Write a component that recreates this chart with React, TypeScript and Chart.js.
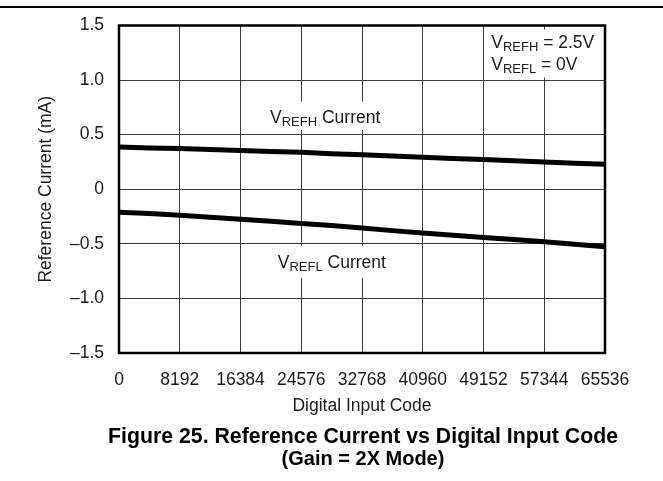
import React, { useEffect, useRef } from 'react';
import { Chart, registerables } from 'chart.js';

Chart.register(...registerables);

// ---- data ----
const inputCodes = [0, 4096, 8192, 12288, 16384, 20480, 24576, 28672, 32768, 36864, 40960, 45056, 49152, 53248, 57344, 61440, 65536];
const vrefhCurrent = [0.386, 0.379, 0.373, 0.364, 0.356, 0.346, 0.338, 0.326, 0.317, 0.305, 0.294, 0.282, 0.272, 0.261, 0.249, 0.239, 0.229];
const vreflCurrent = [-0.21, -0.223, -0.238, -0.256, -0.274, -0.293, -0.314, -0.333, -0.355, -0.379, -0.401, -0.421, -0.441, -0.461, -0.481, -0.503, -0.527];

const xTickValues = [0, 8192, 16384, 24576, 32768, 40960, 49152, 57344, 65536];
const xTickLabels = ['0', '8192', '16384', '24576', '32768', '40960', '49152', '57344', '65536'];
const yTickValues = [-1.5, -1.0, -0.5, 0, 0.5, 1.0, 1.5];
const yTickLabels = ['\u20131.5', '\u20131.0', '\u20130.5', '0', '0.5', '1.0', '1.5'];

const xTitle = 'Digital Input Code';
const yTitle = 'Reference Current (mA)';
const captionLine1 = 'Figure 25. Reference Current vs Digital Input Code';
const captionLine2 = '(Gain = 2X Mode)';

const FONT = "'Liberation Sans', Arial, Helvetica, sans-serif";

type Seg = { t: string; sub?: boolean };

function segWidth(ctx: CanvasRenderingContext2D, segs: Seg[], main: number, sub: number) {
  let w = 0;
  for (const s of segs) {
    ctx.font = `${s.sub ? sub : main}px ${FONT}`;
    w += ctx.measureText(s.t).width;
  }
  return w;
}

function drawSegs(ctx: CanvasRenderingContext2D, segs: Seg[], x: number, y: number, main: number, sub: number) {
  let cx = x;
  ctx.textBaseline = 'alphabetic';
  ctx.textAlign = 'left';
  for (const s of segs) {
    ctx.font = `${s.sub ? sub : main}px ${FONT}`;
    ctx.fillText(s.t, cx, s.sub ? y + 3.5 : y);
    cx += ctx.measureText(s.t).width;
  }
}

const labelH: Seg[] = [{ t: 'V' }, { t: 'REFH', sub: true }, { t: ' Current' }];
const labelL: Seg[] = [{ t: 'V' }, { t: 'REFL', sub: true }, { t: ' Current' }];
const condH: Seg[] = [{ t: 'V' }, { t: 'REFH', sub: true }, { t: ' = 2.5V' }];
const condL: Seg[] = [{ t: 'V' }, { t: 'REFL', sub: true }, { t: ' = 0V' }];

const decorPlugin = {
  id: 'decor',
  beforeDatasetsDraw(chart: any) {
    const ctx: CanvasRenderingContext2D = chart.ctx;
    const { x, y } = chart.scales;
    const main = 17.5;
    const sub = 13;
    ctx.save();
    // VREFH Current label
    {
      const cx = x.getPixelForValue(27800);
      const by = y.getPixelForValue(0.61);
      const w = segWidth(ctx, labelH, main, sub);
      ctx.fillStyle = '#fff';
      ctx.fillRect(cx - w / 2 - 5, by - 21, w + 10, 28);
      ctx.fillStyle = '#1a1a1a';
      drawSegs(ctx, labelH, cx - w / 2, by, main, sub);
    }
    // VREFL Current label
    {
      const cx = x.getPixelForValue(28700);
      const by = y.getPixelForValue(-0.72);
      const w = segWidth(ctx, labelL, main, sub);
      ctx.fillStyle = '#fff';
      ctx.fillRect(cx - w / 2 - 5, by - 22, w + 10, 32);
      ctx.fillStyle = '#1a1a1a';
      drawSegs(ctx, labelL, cx - w / 2, by, main, sub);
    }
    // conditions box (top right)
    {
      const ca = chart.chartArea;
      const lx = x.getPixelForValue(50200);
      ctx.fillStyle = '#fff';
      ctx.fillRect(lx - 6, ca.top + 4, ca.right - lx + 6, 48);
      ctx.fillStyle = '#1a1a1a';
      drawSegs(ctx, condH, lx, ca.top + 22, main, sub);
      drawSegs(ctx, condL, lx, ca.top + 44, main, sub);
    }
    ctx.restore();
  },
  afterDraw(chart: any) {
    const ctx: CanvasRenderingContext2D = chart.ctx;
    const ca = chart.chartArea;
    ctx.save();
    ctx.strokeStyle = '#000';
    ctx.lineWidth = 2.5;
    ctx.strokeRect(ca.left, ca.top, ca.right - ca.left, ca.bottom - ca.top);
    ctx.fillStyle = '#000';
    ctx.fillRect(0, 6, chart.width, 2);
    // figure caption, centred under the plot area
    const mid = (ca.left + ca.right) / 2;
    const xb = chart.scales.x.bottom;
    ctx.textAlign = 'center';
    ctx.textBaseline = 'middle';
    ctx.font = `bold 21.3px ${FONT}`;
    ctx.fillText(captionLine1, mid + 1, xb + 11);
    ctx.font = `bold 20px ${FONT}`;
    ctx.fillText(captionLine2, mid + 1, xb + 33);
    ctx.restore();
  },
};

export default function App() {
  const ref = useRef<HTMLCanvasElement | null>(null);

  useEffect(() => {
    if (!ref.current) return;
    Chart.defaults.font.family = FONT;
    const chart = new Chart(ref.current, {
      type: 'line',
      data: {
        datasets: [
          {
            label: 'VREFH Current',
            data: inputCodes.map((c, i) => ({ x: c, y: vrefhCurrent[i] })),
            borderColor: '#000',
            borderWidth: 5,
            pointRadius: 0,
            tension: 0,
          },
          {
            label: 'VREFL Current',
            data: inputCodes.map((c, i) => ({ x: c, y: vreflCurrent[i] })),
            borderColor: '#000',
            borderWidth: 5,
            pointRadius: 0,
            tension: 0,
          },
        ],
      },
      options: {
        responsive: false,
        animation: false,
        layout: { padding: { top: 23, right: 58, left: 0, bottom: 55 } },
        plugins: {
          legend: { display: false },
          tooltip: { enabled: false },
          title: { display: false },
        },
        scales: {
          x: {
            type: 'linear',
            min: 0,
            max: 65536,
            afterBuildTicks: (s: any) => {
              s.ticks = xTickValues.map((v) => ({ value: v }));
            },
            afterFit: (s: any) => {
              s.height = 73;
            },
            ticks: {
              autoSkip: false,
              maxRotation: 0,
              padding: 17,
              color: '#1a1a1a',
              font: { size: 17.5 },
              callback: (v: any) => {
                const i = xTickValues.indexOf(Number(v));
                return i >= 0 ? xTickLabels[i] : '';
              },
            },
            grid: { color: '#3a3a3a', lineWidth: 1, drawTicks: false },
            border: { display: false },
            title: {
              display: true,
              text: xTitle,
              color: '#1a1a1a',
              font: { size: 17.5 },
              padding: { top: 0, bottom: 9.5 },
            },
          },
          y: {
            type: 'linear',
            min: -1.5,
            max: 1.5,
            afterBuildTicks: (s: any) => {
              s.ticks = yTickValues.map((v) => ({ value: v }));
            },
            afterFit: (s: any) => {
              s.width = 119;
            },
            ticks: {
              padding: 15,
              color: '#1a1a1a',
              font: { size: 17.5 },
              callback: (v: any) => {
                const i = yTickValues.findIndex((t) => Math.abs(t - Number(v)) < 1e-6);
                return i >= 0 ? yTickLabels[i] : '';
              },
            },
            grid: { color: '#3a3a3a', lineWidth: 1, drawTicks: false },
            border: { display: false },
            title: {
              display: true,
              text: yTitle,
              color: '#1a1a1a',
              font: { size: 17.5 },
              padding: { top: 36, bottom: 0 },
            },
          },
        },
      },
      plugins: [decorPlugin],
    } as any);
    return () => chart.destroy();
  }, []);

  return (
    <div style={{ position: 'fixed', left: 0, top: 0, width: 663, height: 481, background: '#fff' }}>
      <canvas ref={ref} width={663} height={481} style={{ display: 'block', width: 663, height: 481 }} />
    </div>
  );
}
